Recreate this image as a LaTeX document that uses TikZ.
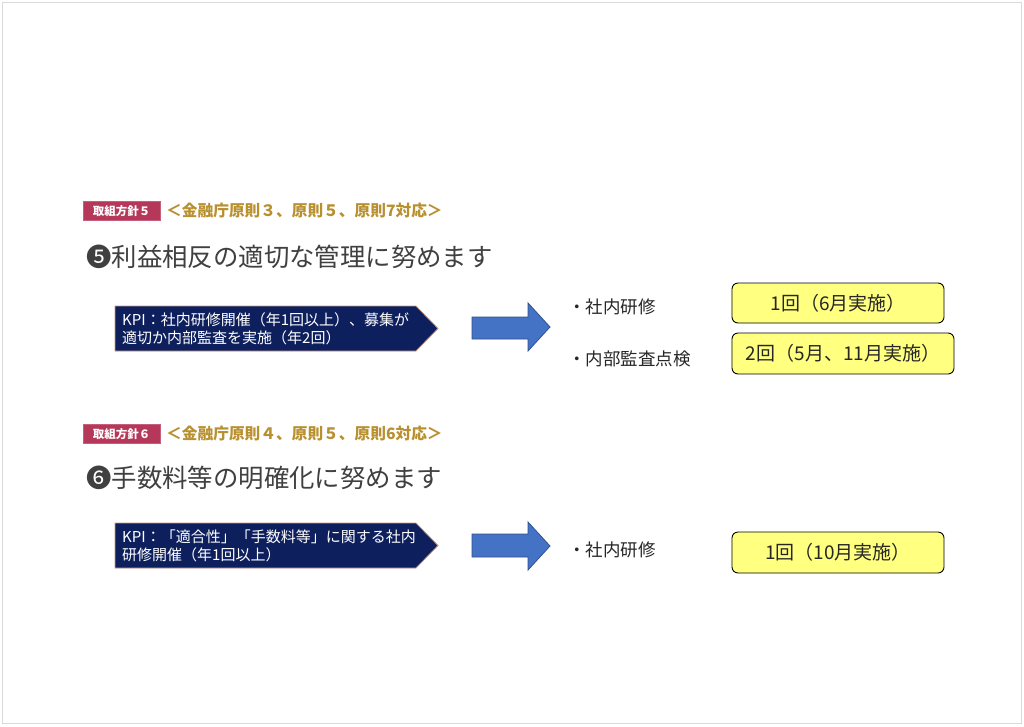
\documentclass[tikz,border=0pt]{standalone}
\usepackage{fontspec}
\setmainfont{Noto Sans CJK JP}
\newfontfamily\cjk{Noto Sans CJK JP}
\usetikzlibrary{shapes.misc}
\definecolor{badgered}{HTML}{B5385A}
\definecolor{goldtxt}{HTML}{B8902F}
\definecolor{headgray}{HTML}{404040}
\definecolor{kpinavy}{HTML}{0E1F5E}
\definecolor{kpiedge}{HTML}{C49A86}
\definecolor{arrowblue}{HTML}{4472C4}
\definecolor{arrowedge}{HTML}{2F528F}
\definecolor{boxyellow}{HTML}{FFFF80}
\tikzset{
  badge/.style={fill=badgered, draw=badgered!80!white, text=white, minimum width=77pt, minimum height=19pt, inner sep=0pt, font=\cjk\bfseries\fontsize{11.5}{13}\selectfont},
  goldline/.style={anchor=west, text=goldtxt, inner sep=0pt, font=\cjk\bfseries\fontsize{15.7}{18}\selectfont},
  headline/.style={anchor=west, text=headgray, inner sep=0pt, font=\cjk\fontsize{25.4}{28}\selectfont},
  kpishape/.style={fill=kpinavy, draw=kpiedge, line width=0.8pt},
  kpitext/.style={anchor=west, text=white, align=left, inner sep=0pt, font=\cjk\fontsize{15}{18}\selectfont},
  bluearrow/.style={fill=arrowblue, draw=arrowedge, line width=0.8pt},
  item/.style={anchor=west, text=black!85, inner sep=0pt, font=\cjk\fontsize{17.5}{20}\selectfont},
  ybox/.style={fill=boxyellow, draw=black, line width=0.9pt, rounded corners=6pt},
  ytext/.style={text=black!85, inner sep=0pt, font=\cjk\fontsize{19}{22}\selectfont},
}
\begin{document}
\begin{tikzpicture}[x=1pt, y=-1pt]
\useasboundingbox (0,0) rectangle (1024,726);
\fill[white] (0,0) rectangle (1024,726);
\draw[black!15, line width=1pt] (2.5,2.5) rectangle (1021.5,723.5);

% Section 5
\node[badge] (b1) at (121.5,211) {取組方針５};
\node[goldline] (g1) at (166,211) {＜金融庁原則３、原則５、原則7対応＞};
\node[headline] (h1) at (86,257) {❺利益相反の適切な管理に努めます};
\draw[kpishape] (115,306) -- (416,306) -- (438,328.5) -- (416,351) -- (115,351) -- cycle;
\node[kpitext] (k1) at (122,329) {KPI：社内研修開催（年1回以上）、募集が\\適切か内部監査を実施（年2回）};
\draw[bluearrow] (472,317) -- (528,317) -- (528,303) -- (550,327) -- (528,351) -- (528,339) -- (472,339) -- cycle;
\node[item] (i1) at (568,307) {・社内研修};
\node[item] (i2) at (568,359) {・内部監査点検};
\draw[ybox] (732,283) rectangle (944,323);
\node[ytext] (y1) at (838,303) {1回（6月実施）};
\draw[ybox] (732,333) rectangle (954,374);
\node[ytext] (y2) at (843,353.5) {2回（5月、11月実施）};

% Section 6
\node[badge] (b2) at (121.5,434) {取組方針６};
\node[goldline] (g2) at (166,434) {＜金融庁原則４、原則５、原則6対応＞};
\node[headline] (h2) at (86,478) {❻手数料等の明確化に努めます};
\draw[kpishape] (115,523) -- (416,523) -- (438,545.5) -- (416,568) -- (115,568) -- cycle;
\node[kpitext] (k2) at (122,546) {KPI：「適合性」「手数料等」に関する社内\\研修開催（年1回以上）};
\draw[bluearrow] (472,534) -- (528,534) -- (528,522) -- (550,546) -- (528,570) -- (528,557) -- (472,557) -- cycle;
\node[item] (i3) at (568,550) {・社内研修};
\draw[ybox] (732,532) rectangle (944,573);
\node[ytext] (y3) at (838,552.5) {1回（10月実施）};
\end{tikzpicture}
\end{document}
